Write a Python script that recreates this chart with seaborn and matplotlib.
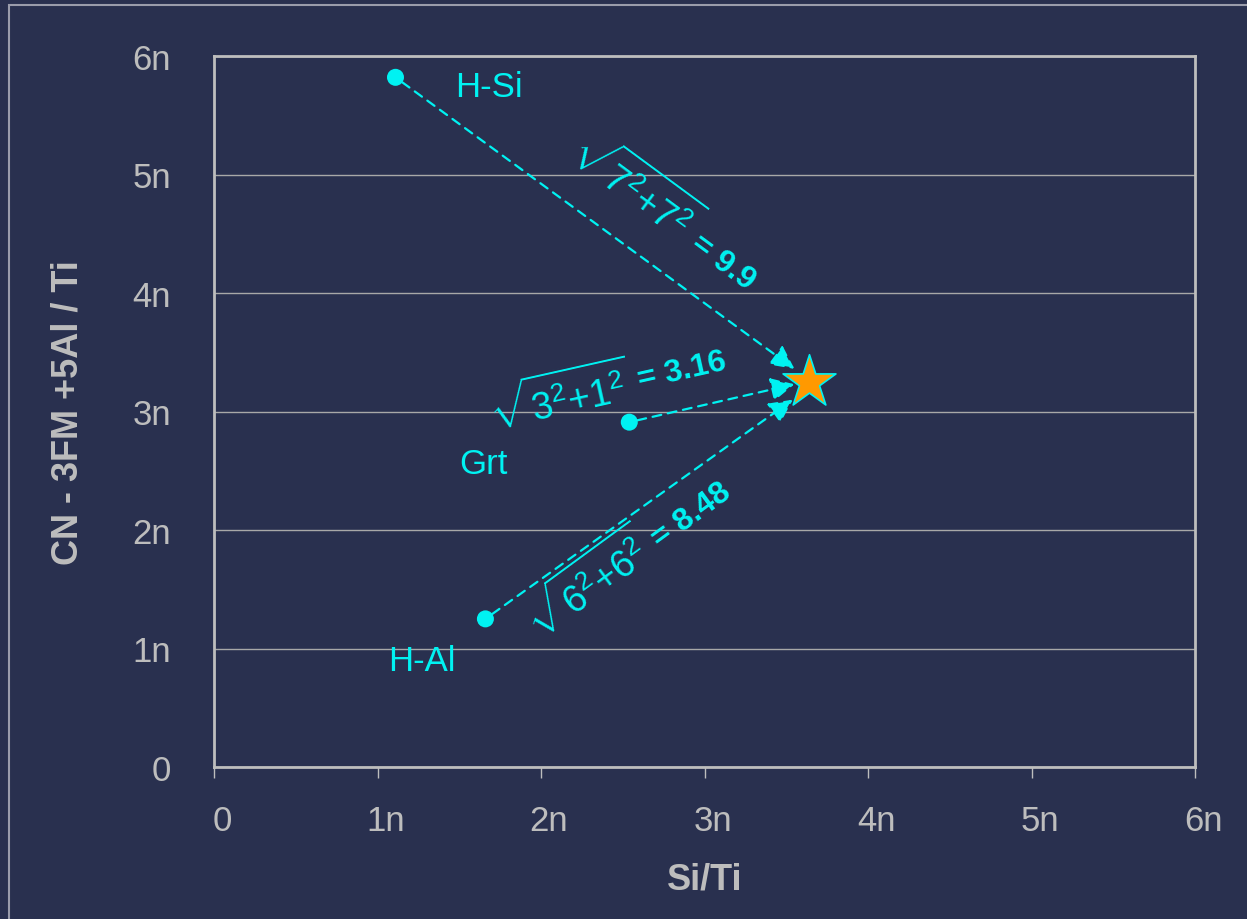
import numpy as np
import pandas as pd
import matplotlib
matplotlib.use('Agg')
import matplotlib.pyplot as plt
import matplotlib.patches as patches
import matplotlib.transforms as mtransforms
import seaborn as sns

# dados
nomes = ['H-Si', 'Grt', 'H-Al']
si_ti = [1.11, 2.54, 1.66]
cn_ti = [5.82, 2.91, 1.25]
alvo_x, alvo_y = 3.64, 3.25

# textos: posicoes (centro) dos rotulos e das formulas
rotulo_x = [1.68, 1.65, 1.27]
rotulo_y = [5.74, 2.56, 0.90]
raizes = [r'$\sqrt{7^2{+}7^2}$', r'$\sqrt{3^2{+}1^2}$', r'$\sqrt{6^2{+}6^2}$']
raiz_x = [2.57, 2.12, 2.29]
raiz_y = [4.89, 3.11, 1.54]
resultados = ['= 9.9', '= 3.16', '= 8.48']
res_x = [3.11, 2.86, 2.92]
res_y = [4.26, 3.35, 2.13]
# ponta das setas (junto a estrela)
seta_x = [3.55, 3.55, 3.54]
seta_y = [3.36, 3.23, 3.10]

ticks = [0, 1, 2, 3, 4, 5, 6]
tick_labels = ['0', '1n', '2n', '3n', '4n', '5n', '6n']

fundo = '#29304f'
cinza = '#bdbdbd'
ciano = '#00f2f2'

sns.set_style('white')
plt.rcParams['font.family'] = ['Liberation Sans', 'DejaVu Sans']
plt.rcParams['mathtext.fontset'] = 'custom'
plt.rcParams['mathtext.rm'] = 'Liberation Sans'
plt.rcParams['mathtext.it'] = 'Liberation Sans'

fig = plt.figure(figsize=(12.47, 9.2), dpi=100, facecolor=fundo)
ax = fig.add_axes([214 / 1247, 1 - 768 / 920, 981 / 1247, 711 / 920])
ax.set_facecolor(fundo)

ax.set_xlim(0, 6)
ax.set_ylim(0, 6)

dados = pd.DataFrame({'x': si_ti, 'y': cn_ti, 'nome': nomes})
sns.scatterplot(data=dados, x='x', y='y', ax=ax, color=ciano, s=150,
                edgecolor='none', zorder=5)

# linhas tracejadas com seta
for i in range(len(nomes)):
    ax.annotate('', xy=(seta_x[i], seta_y[i]), xytext=(si_ti[i], cn_ti[i]),
                arrowprops=dict(arrowstyle='-|>', color=ciano, lw=1.6,
                                linestyle=(0, (4, 3)), mutation_scale=36,
                                shrinkA=6, shrinkB=0), zorder=4)

alvo = pd.DataFrame({'x': [alvo_x], 'y': [alvo_y]})
sns.scatterplot(data=alvo, x='x', y='y', ax=ax, marker='*', s=1600,
                color='#ff9900', edgecolor=ciano, linewidth=1.2, zorder=6)

# rotulos dos pontos
for i in range(len(nomes)):
    ax.text(rotulo_x[i], rotulo_y[i], nomes[i], color=ciano, fontsize=25,
            ha='center', va='center')

# angulo das linhas na tela
def angulo(x0, y0, x1, y1):
    p0 = ax.transData.transform((x0, y0))
    p1 = ax.transData.transform((x1, y1))
    return np.degrees(np.arctan2(p1[1] - p0[1], p1[0] - p0[0]))

for i in range(len(nomes)):
    a = angulo(si_ti[i], cn_ti[i], alvo_x, alvo_y)
    if a > 90:
        a -= 180
    if a < -90:
        a += 180
    ax.text(raiz_x[i], raiz_y[i], raizes[i], color=ciano, fontsize=27,
            rotation=a, rotation_mode='anchor', ha='center', va='center')
    ax.text(res_x[i], res_y[i], resultados[i], color=ciano, fontsize=23,
            fontweight='bold', rotation=a, rotation_mode='anchor',
            ha='center', va='center')

# eixos
ax.set_xticks(ticks)
ax.set_xticklabels(tick_labels)
ax.set_yticks(ticks)
ax.set_yticklabels(tick_labels)
ax.tick_params(axis='x', colors=cinza, labelsize=25, length=8, width=1,
               direction='out', pad=19, bottom=True)
ax.tick_params(axis='y', colors=cinza, labelsize=25, length=0, pad=31)
ax.yaxis.grid(True, color='#a8a8a8', linewidth=1)
ax.xaxis.grid(False)
for lado in ax.spines.values():
    lado.set_color(cinza)
    lado.set_linewidth(2)

ax.set_xlabel('Si/Ti', color=cinza, fontsize=26, fontweight='bold')
ax.set_ylabel('CN - 3FM +5Al / Ti', color=cinza, fontsize=26, fontweight='bold')
ax.xaxis.set_label_coords(0.5, -0.133)
ax.yaxis.set_label_coords(-0.131, 0.5)

# rotulos do eixo x um pouco a direita, como no original
desloc = mtransforms.ScaledTranslation(8 / 100, 0, fig.dpi_scale_trans)
for rot in ax.get_xticklabels():
    rot.set_transform(rot.get_transform() + desloc)

# moldura externa do slide
fig.patches.append(patches.Rectangle((9 / 1247, -0.1), 2, 1.1 - 6 / 920,
                                     transform=fig.transFigure, fill=False,
                                     edgecolor='#9a9cab', linewidth=1.5))

fig.savefig('out.png', dpi=100, facecolor=fundo)
